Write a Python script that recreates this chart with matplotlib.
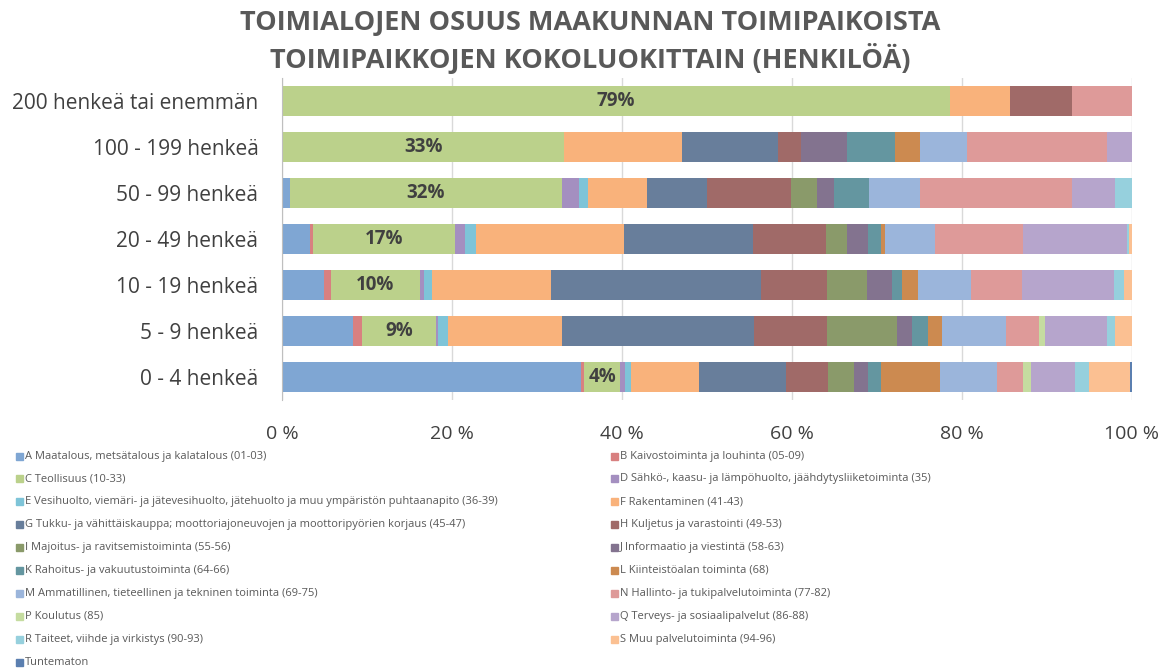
import numpy as np
import matplotlib.pyplot as plt
from matplotlib.patches import Rectangle

# size classes, bottom to top
size_classes = ["0 - 4 henkeä", "5 - 9 henkeä", "10 - 19 henkeä", "20 - 49 henkeä",
                "50 - 99 henkeä", "100 - 199 henkeä", "200 henkeä tai enemmän"]

industries = [
    "A Maatalous, metsätalous ja kalatalous (01-03)",
    "B Kaivostoiminta ja louhinta (05-09)",
    "C Teollisuus (10-33)",
    "D Sähkö-, kaasu- ja lämpöhuolto, jäähdytysliiketoiminta (35)",
    "E Vesihuolto, viemäri- ja jätevesihuolto, jätehuolto ja muu ympäristön puhtaanapito (36-39)",
    "F Rakentaminen (41-43)",
    "G Tukku- ja vähittäiskauppa; moottoriajoneuvojen ja moottoripyörien korjaus (45-47)",
    "H Kuljetus ja varastointi (49-53)",
    "I Majoitus- ja ravitsemistoiminta (55-56)",
    "J Informaatio ja viestintä (58-63)",
    "K Rahoitus- ja vakuutustoiminta (64-66)",
    "L Kiinteistöalan toiminta (68)",
    "M Ammatillinen, tieteellinen ja tekninen toiminta (69-75)",
    "N Hallinto- ja tukipalvelutoiminta (77-82)",
    "P Koulutus (85)",
    "Q Terveys- ja sosiaalipalvelut (86-88)",
    "R Taiteet, viihde ja virkistys (90-93)",
    "S Muu palvelutoiminta (94-96)",
    "Tuntematon",
]

colors = ["#7FA6D3", "#D88080", "#BBD18B", "#A48FC0", "#7EC4D8", "#F9B27B",
          "#687E9B", "#A06A68", "#8A9A6A", "#83738F", "#6496A0", "#CC8A50",
          "#9BB5DB", "#DE9A99", "#C5DCA0", "#B6A5CC", "#96D0DD", "#FBC092",
          "#5B7FB0"]

# shares (%) per size class, in industry order A..S, Tuntematon
#          A     B    C     D    E    F     G     H    I    J    K    L    M    N     P    Q     R    S    T
s_0_4   = [35.2, 0.3, 4.3,  0.5, 0.8, 8.0,  10.2, 4.9, 3.1, 1.6, 1.6, 6.9, 6.7, 3.1,  0.9, 5.2,  1.6, 4.9, 0.2]
s_5_9   = [8.4,  1.0, 8.7,  0.2, 1.2, 13.4, 22.6, 8.6, 8.3, 1.7, 1.9, 1.7, 7.5, 3.8,  0.8, 7.3,  0.9, 2.0, 0.0]
s_10_19 = [4.9,  0.9, 10.4, 0.5, 1.0, 14.0, 24.7, 7.7, 4.7, 3.0, 1.1, 1.9, 6.3, 5.9,  0.0, 10.9, 1.2, 0.9, 0.0]
s_20_49 = [3.3,  0.4, 16.6, 1.2, 1.3, 17.4, 15.2, 8.6, 2.5, 2.4, 1.6, 0.4, 5.9, 10.4, 0.0, 12.2, 0.3, 0.3, 0.0]
s_50_99 = [0.9,  0.0, 32.0, 2.0, 1.1, 6.9,  7.1,  9.9, 3.0, 2.0, 4.1, 0.0, 6.0, 17.9, 0.0, 5.1,  2.0, 0.0, 0.0]
s_100   = [0.0,  0.0, 33.2, 0.0, 0.0, 13.9, 11.2, 2.7, 0.0, 5.5, 5.6, 2.9, 5.6, 16.5, 0.0, 2.9,  0.0, 0.0, 0.0]
s_200   = [0.0,  0.0, 78.6, 0.0, 0.0, 7.1,  0.0,  7.2, 0.0, 0.0, 0.0, 0.0, 0.0, 7.1,  0.0, 0.0,  0.0, 0.0, 0.0]

# labels shown on the C segment
c_labels = ["4%", "9%", "10%", "17%", "32%", "33%", "79%"]

shares = np.array([s_0_4, s_5_9, s_10_19, s_20_49, s_50_99, s_100, s_200])

fig = plt.figure(figsize=(11.69, 6.68), dpi=100)
ax = fig.add_axes([282 / 1169, 1 - 400 / 668, 850 / 1169, 322 / 668])

y = np.arange(len(size_classes))
left = np.zeros(len(size_classes))
for j, name in enumerate(industries):
    vals = shares[:, j]
    ax.barh(y, vals, left=left, height=0.67, color=colors[j], zorder=2)
    if j == 2:
        for yi, (l, v, lab) in enumerate(zip(left, vals, c_labels)):
            ax.text(l + v / 2, yi, lab, ha="center", va="center", fontsize=13.5,
                    fontweight="bold", color="#404040", family="Open Sans", zorder=3)
    left += vals

ax.set_xlim(0, 100)
ax.set_ylim(-0.5, len(size_classes) - 0.5)
ax.set_xticks([0, 20, 40, 60, 80, 100])
ax.set_xticklabels([f"{v} %" for v in [0, 20, 40, 60, 80, 100]])
ax.set_yticks(y)
ax.set_yticklabels(size_classes)
ax.tick_params(axis="both", length=0, labelsize=14, colors="#404040")
ax.tick_params(axis="y", labelsize=15, pad=17)
ax.tick_params(axis="x", pad=18)
for lab in ax.get_xticklabels() + ax.get_yticklabels():
    lab.set_family("Open Sans")
ax.grid(axis="x", color="#D9D9D9", linewidth=1, zorder=0)
for s in ["top", "right", "bottom"]:
    ax.spines[s].set_visible(False)
ax.spines["left"].set_color("#BFBFBF")
ax.spines["left"].set_zorder(4)

fig.text(0.505, 1 - 23 / 668, "TOIMIALOJEN OSUUS MAAKUNNAN TOIMIPAIKOISTA",
         ha="center", va="center", fontsize=19.5, fontweight="bold", color="#595959",
         family="Open Sans")
fig.text(0.505, 1 - 59 / 668, "TOIMIPAIKKOJEN KOKOLUOKITTAIN (HENKILÖÄ)",
         ha="center", va="center", fontsize=19.5, fontweight="bold", color="#595959",
         family="Open Sans")

# legend, two columns, row-major like Excel
col_x = [16, 611]
for i, (name, c) in enumerate(zip(industries, colors)):
    col, row = i % 2, i // 2
    yc = 456 + row * 22.9
    fig.patches.append(Rectangle((col_x[col] / 1169, 1 - (yc + 3.5) / 668), 7 / 1169, 7 / 668,
                                 transform=fig.transFigure, color=c, figure=fig))
    fig.text((col_x[col] + 9) / 1169, 1 - yc / 668, name, ha="left", va="center",
             fontsize=8, color="#595959", family="Open Sans")

fig.savefig("out.png", dpi=100)
